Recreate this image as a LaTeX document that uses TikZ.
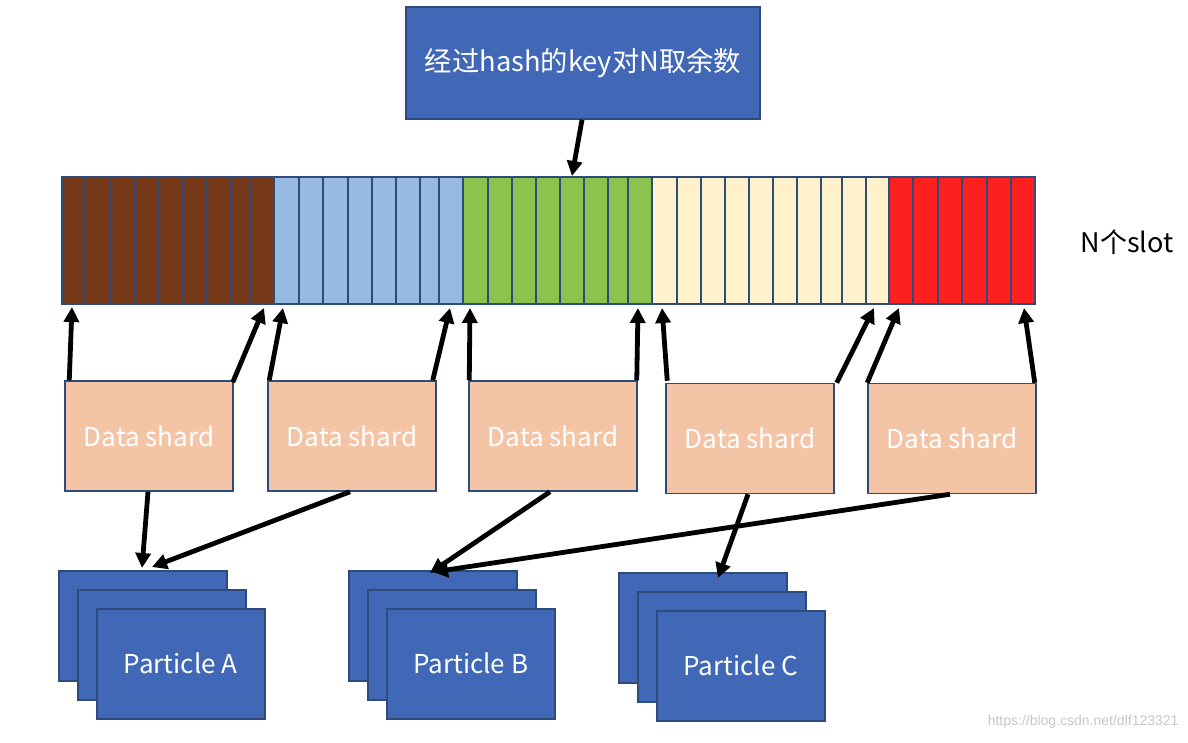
\documentclass[tikz,border=0pt]{standalone}
\usepackage{fontspec}
\setmainfont{Noto Sans CJK SC}
\newfontfamily\wmfont{Liberation Sans}
\usetikzlibrary{arrows.meta}
\definecolor{navy}{HTML}{2F4B7C}
\definecolor{boxblue}{HTML}{4068B6}
\definecolor{slotbrown}{HTML}{76391A}
\definecolor{slotblue}{HTML}{97BAE1}
\definecolor{slotgreen}{HTML}{8BC44C}
\definecolor{slotcream}{HTML}{FEF1CC}
\definecolor{slotred}{HTML}{FE1F1F}
\definecolor{shard}{HTML}{F4C4A7}
\tikzset{
  bluebox/.style={draw=navy, line width=1.5pt, fill=boxblue, text=white, inner sep=0pt, minimum width=168pt, minimum height=110pt, font=\fontsize{26}{30}\selectfont},
  shardbox/.style={draw=navy, line width=1.5pt, fill=shard, text=white, inner sep=0pt, minimum width=168pt, minimum height=110pt, font=\fontsize{26}{30}\selectfont},
  slotcell/.style={draw=navy, line width=1.6pt},
  conn/.style={line width=4.8pt, -{Triangle[length=15pt,width=15pt]}, shorten >=0pt},
}
\begin{document}
\begin{tikzpicture}[x=1pt,y=-1pt]
\useasboundingbox (0,0) rectangle (1188,742);
\fill[white] (0,0) rectangle (1188,742);

% top box
\node[bluebox, minimum width=354pt, minimum height=112pt, font=\fontsize{27.3}{31}\selectfont] (top) at (583,63) {经过hash的key对N取余数};

% slots
\foreach \a/\b/\c in {62/85/slotbrown,85/110/slotbrown,110/135/slotbrown,135/158/slotbrown,158/183/slotbrown,183/207/slotbrown,207/231/slotbrown,231/251/slotbrown,251/274/slotbrown,
274/299/slotblue,299/323/slotblue,323/348/slotblue,348/372/slotblue,372/396/slotblue,396/420/slotblue,420/439/slotblue,439/463/slotblue,
463/488/slotgreen,488/512/slotgreen,512/536/slotgreen,536/560/slotgreen,560/584/slotgreen,584/608/slotgreen,608/628/slotgreen,628/652/slotgreen,
652/677/slotcream,677/701/slotcream,701/725/slotcream,725/749/slotcream,749/773/slotcream,773/797/slotcream,797/821/slotcream,821/842/slotcream,842/866/slotcream,866/889/slotcream,
889/913/slotred,913/938/slotred,938/962/slotred,962/987/slotred,987/1011/slotred,1011/1035/slotred}
  {\draw[slotcell, fill=\c] (\a,177) rectangle (\b,304);}
\node[draw=navy, line width=1.8pt, minimum width=973pt, minimum height=127pt, inner sep=0pt] (bar) at (548.5,240.5) {};

\node[font=\fontsize{27}{31}\selectfont, anchor=west] (nslot) at (1077,242) {N个slot};

% data shards
\node[shardbox] (ds1) at (149,436) {Data shard};
\node[shardbox] (ds2) at (352,436) {Data shard};
\node[shardbox] (ds3) at (553,436) {Data shard};
\node[shardbox] (ds4) at (750,438.5) {Data shard};
\node[shardbox] (ds5) at (952,438.5) {Data shard};

% particle stacks
\foreach \n/\x/\y in {A/58/570,B/348/570,C/618/572}{
  \node[bluebox, anchor=north west] (p\n1) at (\x,\y) {};
  \node[bluebox, anchor=north west] (p\n2) at (\x+19,\y+19) {};
  \node[bluebox, anchor=north west] (p\n3) at (\x+38,\y+38) {Particle \n};
}

% connector end points
\coordinate (b1) at (72,307);
\coordinate (b2) at (264,308);
\coordinate (b3) at (283,308);
\coordinate (b4) at (450,308);
\coordinate (b5) at (470,308);
\coordinate (b6) at (638,308);
\coordinate (b7) at (662,308);
\coordinate (b8) at (874,308);
\coordinate (b9) at (899,308);
\coordinate (b10) at (1024,308);
\coordinate (hit) at (572,176);
\coordinate (pa1) at (142,568);
\coordinate (pa2) at (152,567);
\coordinate (pb1) at (430,573);
\coordinate (pb2) at (433,572);
\coordinate (pc1) at (718,578);

% hash arrow
\draw[conn] ([xshift=-1pt]top.south) -- (hit);

% up arrows
\draw[conn] ([xshift=5pt]ds1.north west) -- (b1);
\draw[conn] ([xshift=-1pt,yshift=-2pt]ds1.north east) -- (b2);
\draw[conn] ([xshift=2pt]ds2.north west) -- (b3);
\draw[conn] ([xshift=-4pt]ds2.north east) -- (b4);
\draw[conn] ([xshift=1pt]ds3.north west) -- (b5);
\draw[conn] ([xshift=-1pt]ds3.north east) -- (b6);
\draw[conn] ([xshift=2pt,yshift=2pt]ds4.north west) -- (b7);
\draw[conn] ([xshift=2pt]ds4.north east) -- (b8);
\draw[conn] ([xshift=0pt]ds5.north west) -- (b9);
\draw[conn] ([xshift=-2pt]ds5.north east) -- (b10);

% down arrows
\draw[conn] ([xshift=-1pt]ds1.south) -- (pa1);
\draw[conn] ([xshift=-2pt]ds2.south) -- (pa2);
\draw[conn] ([xshift=-3pt]ds3.south) -- (pb1);
\draw[conn] ([xshift=-2pt]ds5.south) -- (pb2);
\draw[conn] ([xshift=-2pt]ds4.south) -- (pc1);

% watermark
\node[font=\wmfont\fontsize{14}{16}\selectfont, text=black!22, anchor=east] (wm) at (1182,722) {https://blog.csdn.net/dlf123321};
\end{tikzpicture}
\end{document}
